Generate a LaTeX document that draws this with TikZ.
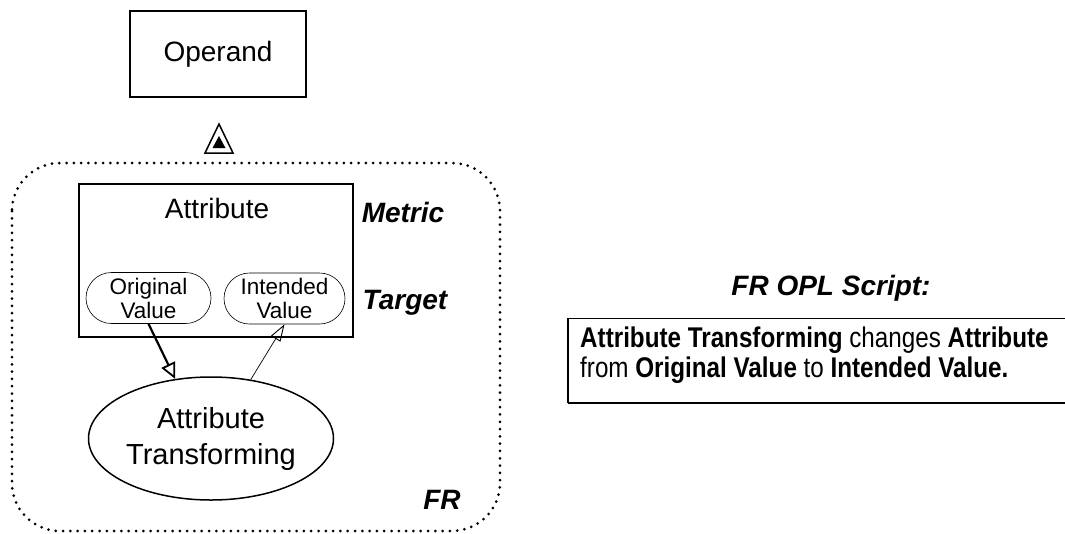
\documentclass[tikz,border=0pt]{standalone}
\usepackage{fontspec}
\setmainfont{Liberation Sans}
\newfontfamily\narrowfont[FakeStretch=0.85]{Liberation Sans}
\usetikzlibrary{arrows.meta,shapes.geometric,shapes.misc}

\tikzset{
  objbox/.style={draw, line width=1.6pt, rectangle, inner sep=0pt},
  bigtext/.style={font=\fontsize{28}{33}\selectfont, align=center, inner sep=0pt},
  tagtext/.style={font=\fontsize{28}{33}\selectfont\bfseries\itshape, inner sep=0pt},
  statepill/.style={draw, line width=0.6pt, rounded rectangle, inner sep=0pt,
    minimum width=125pt, minimum height=51pt, font=\fontsize{22.5}{26}\selectfont, align=center},
  process/.style={draw, line width=1.5pt, ellipse, inner sep=0pt,
    minimum width=245pt, minimum height=123pt, font=\fontsize{29}{36}\selectfont, align=center},
  inlink/.style={line width=2.2pt, -{Triangle[open, length=16pt, width=15pt, line width=1.8pt]}},
  outlink/.style={line width=0.7pt, -{Triangle[open, length=17pt, width=11pt, line width=0.9pt]}},
  fence/.style={line width=3pt, line cap=round, dash pattern=on 0pt off 7.3pt, rounded corners=48pt},
}

\begin{document}
\begin{tikzpicture}[x=1pt, y=-1pt]
  \useasboundingbox (0,0) rectangle (1065,533);

  % Operand object
  \node[objbox, minimum width=176pt, minimum height=86pt] (operand) at (218,54) {};
  \node[bigtext] (operandname) at (operand.center) {Operand};

  % exhibition-characterization symbol
  \coordinate (triapex) at (219,124);
  \draw[line width=1.5pt, line join=miter] (triapex) -- (205,153) -- (233,153) -- cycle;
  \fill (219,136) -- (212.5,148) -- (225.5,148) -- cycle;

  % FR dotted boundary
  \draw[fence] (12,163) rectangle (500,531);
  \node[tagtext] (fr) at (442,500) {FR};

  % Attribute object with its states
  \node[objbox, minimum width=274pt, minimum height=153pt] (attr) at (216,260.5) {};
  \node[bigtext] (attrname) at (217,208) {Attribute};
  \node[tagtext] (metric) at (403,212) {Metric};
  \node[tagtext] (target) at (405,303) {Target};

  \node[statepill] (orig) at (148.5,298) {Original\\[-2pt]Value};
  \node[statepill, minimum width=121pt] (intended) at (284.5,298.5) {Intended\\[-2pt]Value};

  % process
  \node[process] (proc) at (211,438.5) {Attribute\\Transforming};

  % input / output links
  \draw[inlink] (orig.south) -- (proc.121);
  \draw[outlink] (proc.56) -- (intended.south);

  % OPL script panel
  \node[tagtext] (oplhead) at (831,288) {FR OPL Script:};
  \coordinate (oplTR) at (1066,318.5);
  \coordinate (oplTL) at (568,318.5);
  \coordinate (oplBL) at (568,403);
  \coordinate (oplBR) at (1066,403);
  \draw[line width=1.3pt] (oplTR) -- (oplTL) -- (oplBL);
  \draw[line width=2.4pt] (oplBL) -- (oplBR);
  \node[anchor=west, inner sep=0pt, align=left,
        font=\narrowfont\fontsize{28.5}{30}\selectfont] (opltext) at (580,355)
    {\textbf{Attribute Transforming} changes \textbf{Attribute}\\
     from \textbf{Original Value} to \textbf{Intended Value.}};
\end{tikzpicture}
\end{document}
